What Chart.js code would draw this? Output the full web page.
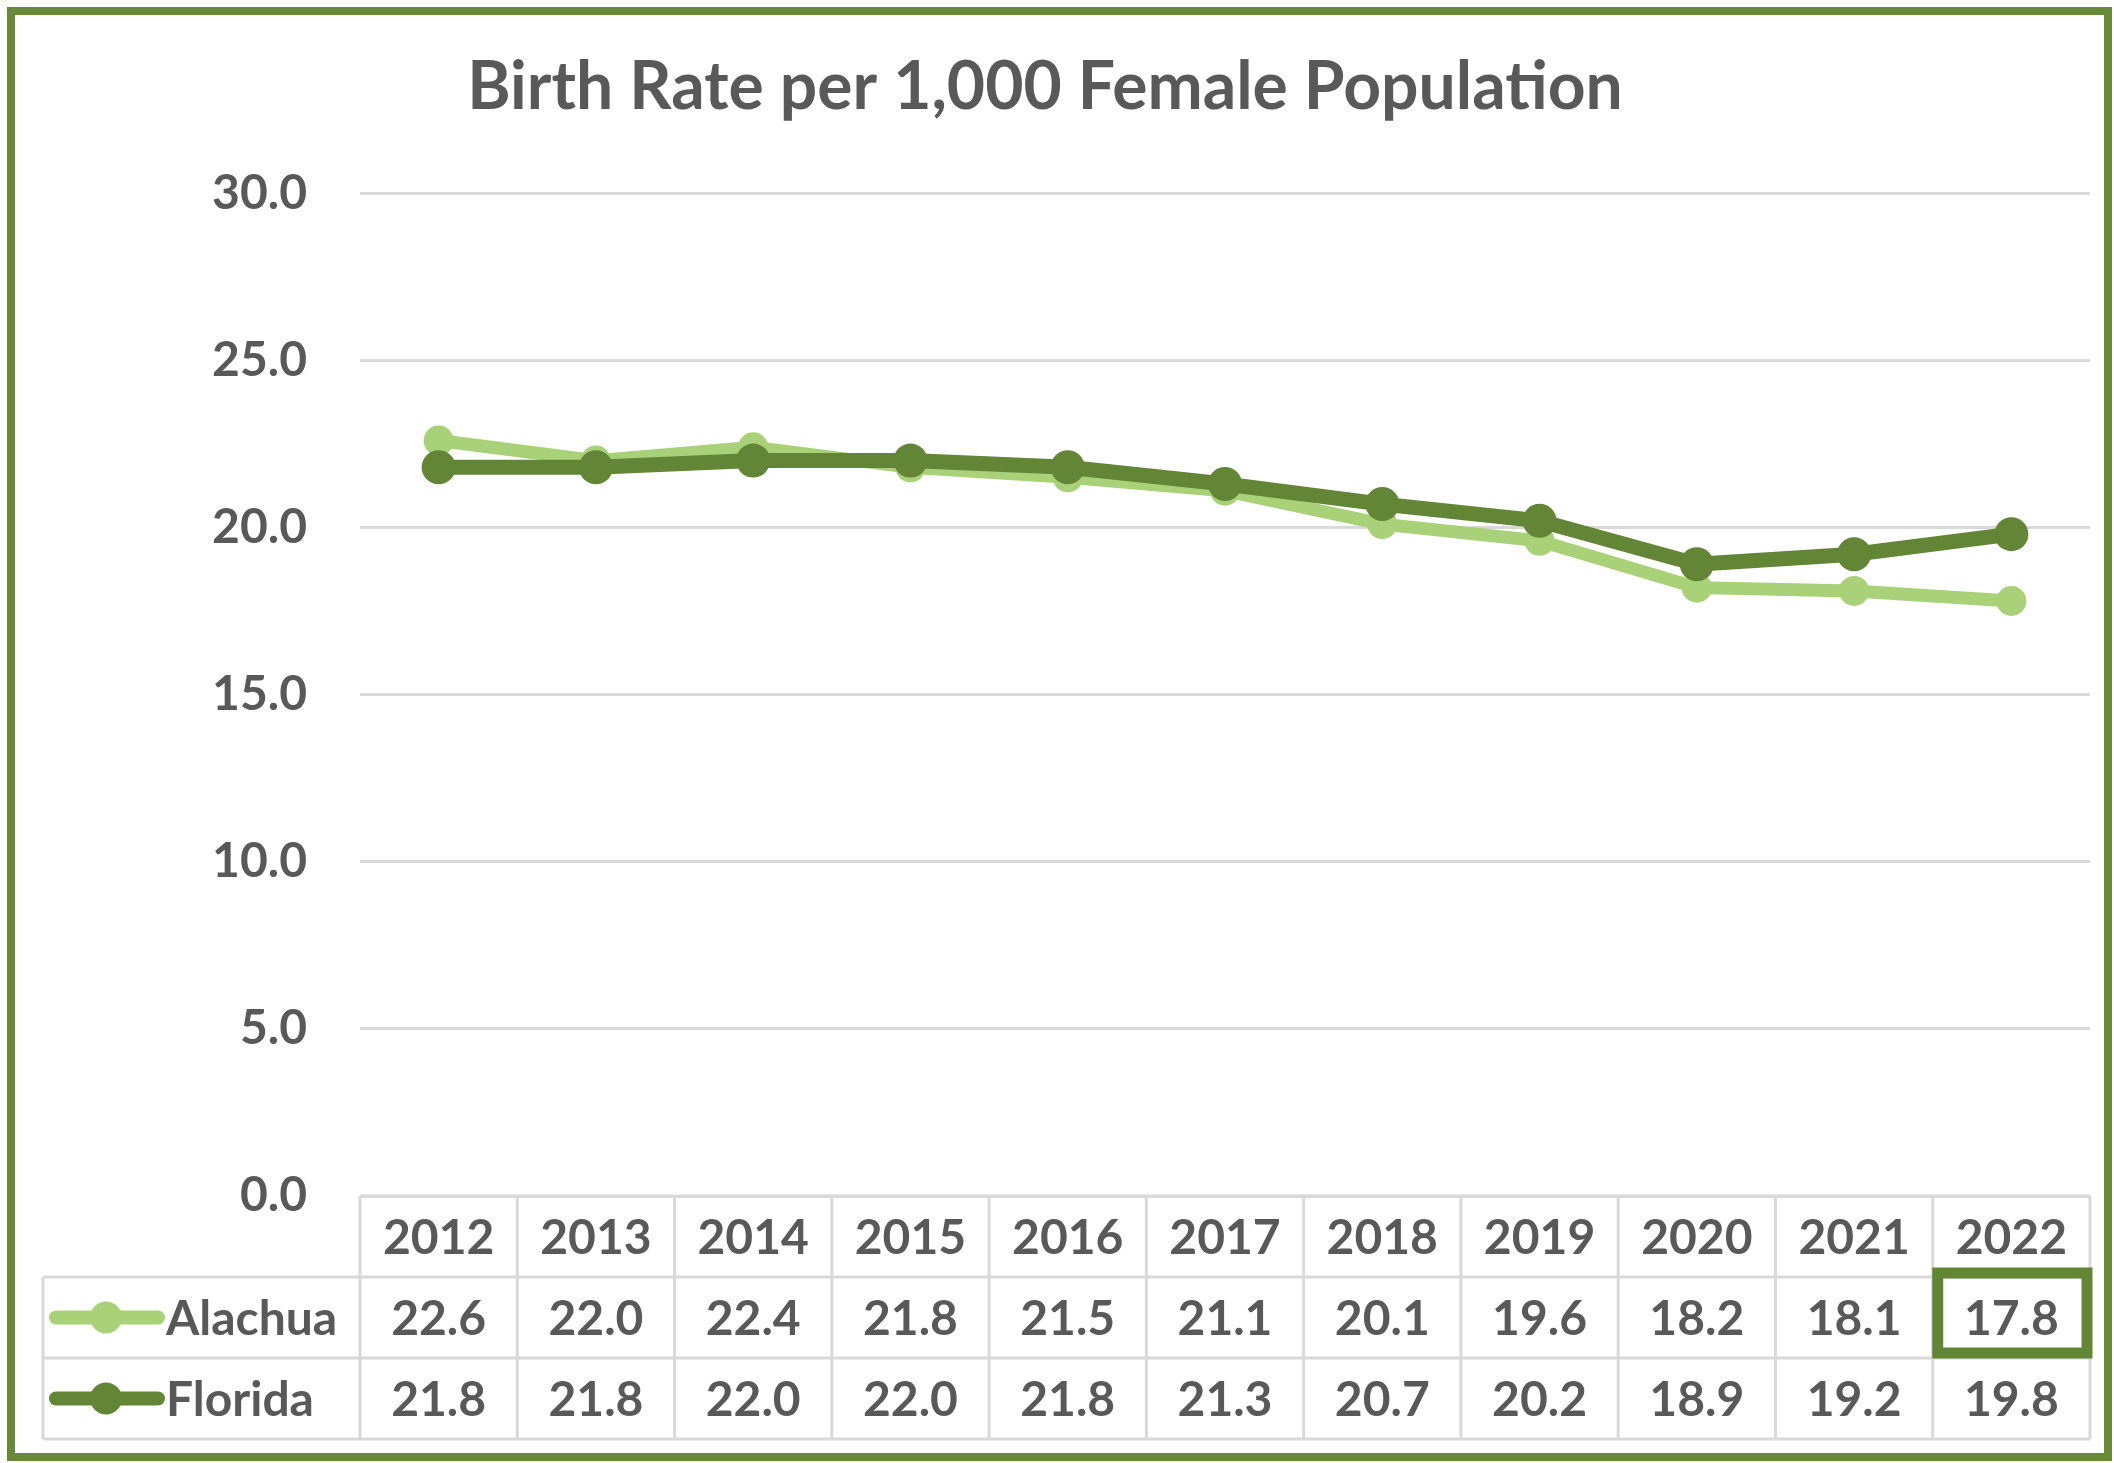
<!DOCTYPE html>
<html>
<head>
<meta charset="utf-8">
<script src="https://cdn.jsdelivr.net/npm/chart.js@4.4.0/dist/chart.umd.min.js"></script>
<style>
  html, body { margin: 0; padding: 0; background: #fff; }
  #wrap { width: 2114px; height: 1463px; position: relative; }
</style>
</head>
<body>
<div id="wrap"><canvas id="birthChart"></canvas></div>
<script>
// Birth rate per 1,000 female population, Alachua vs Florida
const years = ["2012", "2013", "2014", "2015", "2016", "2017", "2018", "2019", "2020", "2021", "2022"];
const alachua = [22.6, 22.0, 22.4, 21.8, 21.5, 21.1, 20.1, 19.6, 18.2, 18.1, 17.8];
const florida = [21.8, 21.8, 22.0, 22.0, 21.8, 21.3, 20.7, 20.2, 18.9, 19.2, 19.8];
const seriesNames = ["Alachua", "Florida"];
const yMin = 0, yMax = 30, yStep = 5;

const LIGHT = "#A9D177";
const DARK = "#638536";
const TEXT = "#595959";
const GRID = "#D9D9D9";
const FONT = "Lato";

// tabel data di bawah grafik + bingkai hijau
const dataTablePlugin = {
  id: "dataTable",
  afterDraw(chart) {
    const { ctx, chartArea } = chart;
    const xs = chart.scales.x;
    const colW = (chartArea.right - chartArea.left) / years.length;
    const top = chartArea.bottom;
    const rowH = 81;
    const legLeft = 43;
    const right = chartArea.right;
    const rows = [alachua, florida];
    const colors = [LIGHT, DARK];

    ctx.save();
    ctx.strokeStyle = GRID;
    ctx.lineWidth = 3;
    ctx.beginPath();
    ctx.moveTo(chartArea.left, top);
    ctx.lineTo(right, top);
    for (let r = 1; r <= 3; r++) {
      ctx.moveTo(legLeft, top + r * rowH);
      ctx.lineTo(right, top + r * rowH);
    }
    ctx.moveTo(legLeft, top + rowH);
    ctx.lineTo(legLeft, top + 3 * rowH);
    for (let i = 0; i <= years.length; i++) {
      const bx = chartArea.left + i * colW;
      ctx.moveTo(bx, top);
      ctx.lineTo(bx, top + 3 * rowH);
    }
    ctx.stroke();

    ctx.fillStyle = TEXT;
    ctx.font = `bold 48px ${FONT}`;
    ctx.textAlign = "center";
    ctx.textBaseline = "middle";
    years.forEach((yr, i) => {
      const cx = xs.getPixelForValue(i);
      ctx.fillText(yr, cx, top + rowH / 2 + 2);
      rows.forEach((vals, r) => {
        ctx.fillText(vals[i].toFixed(1), cx, top + (r + 1.5) * rowH + 2);
      });
    });

    // legend keys
    rows.forEach((vals, r) => {
      const cy = top + (r + 1.5) * rowH;
      ctx.strokeStyle = colors[r];
      ctx.fillStyle = colors[r];
      ctx.lineWidth = 14;
      ctx.lineCap = "round";
      ctx.beginPath();
      ctx.moveTo(56, cy);
      ctx.lineTo(158, cy);
      ctx.stroke();
      ctx.beginPath();
      ctx.arc(106, cy, 16, 0, Math.PI * 2);
      ctx.fill();
      ctx.fillStyle = TEXT;
      ctx.textAlign = "left";
      ctx.fillText(seriesNames[r], 166, cy + 2);
    });

    // highlight last Alachua cell
    const hx = chartArea.left + (years.length - 1) * colW;
    ctx.strokeStyle = DARK;
    ctx.lineWidth = 11;
    ctx.lineCap = "butt";
    ctx.strokeRect(hx + 5, top + rowH - 4, colW - 8, rowH - 1);

    // outer frame
    ctx.strokeStyle = "#688A38";
    ctx.lineWidth = 8;
    ctx.strokeRect(11, 11, 2097, 1446);
    ctx.restore();
  }
};

new Chart(document.getElementById("birthChart"), {
  type: "line",
  data: {
    labels: years,
    datasets: [
      {
        label: seriesNames[0],
        data: alachua,
        borderColor: LIGHT,
        backgroundColor: LIGHT,
        borderWidth: 13,
        pointRadius: 15,
        pointBorderWidth: 0,
        pointBackgroundColor: LIGHT,
        tension: 0,
        order: 2
      },
      {
        label: seriesNames[1],
        data: florida,
        borderColor: DARK,
        backgroundColor: DARK,
        borderWidth: 15,
        pointRadius: 17,
        pointBorderWidth: 0,
        pointBackgroundColor: DARK,
        tension: 0,
        order: 1
      }
    ]
  },
  options: {
    responsive: true,
    maintainAspectRatio: false,
    animation: false,
    layout: { padding: { left: 0, right: 24, top: 0, bottom: 0 } },
    plugins: {
      legend: { display: false },
      tooltip: { enabled: false },
      title: {
        display: true,
        text: "Birth Rate per 1,000 Female Population",
        color: TEXT,
        font: { family: FONT, size: 66, weight: "bold" },
        padding: { top: 48, bottom: 66 }
      }
    },
    scales: {
      x: {
        offset: true,
        grid: { display: false },
        border: { display: false },
        ticks: { display: false },
        afterFit(scale) { scale.height = 267; }
      },
      y: {
        min: yMin,
        max: yMax,
        grid: { color: GRID, lineWidth: 3, drawTicks: false },
        border: { display: false },
        ticks: {
          stepSize: yStep,
          padding: 53,
          color: TEXT,
          font: { family: FONT, size: 48, weight: "bold" },
          callback: (v) => v.toFixed(1)
        },
        afterFit(scale) { scale.width = 360; }
      }
    }
  },
  plugins: [dataTablePlugin]
});
</script>
</body>
</html>
